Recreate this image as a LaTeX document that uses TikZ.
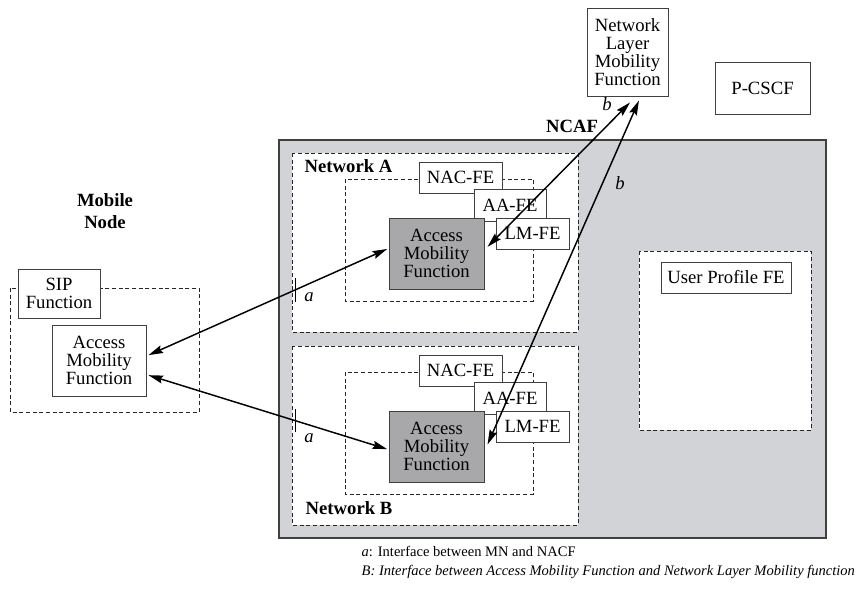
\documentclass[tikz,border=0pt]{standalone}
\usepackage{fontspec}
\setmainfont{Liberation Serif}
\usetikzlibrary{arrows.meta,calc}
\definecolor{ncafgray}{RGB}{210,211,214}
\definecolor{amfgray}{RGB}{168,168,170}
\newcommand\fe{\fontsize{14}{13.6}\selectfont}
\newcommand\fn{\fontsize{10.9}{13}\selectfont}

\begin{document}
\begin{tikzpicture}[x=0.75pt,y=-0.75pt,
  fbox/.style={draw=black!75,fill=white,line width=0.7pt,inner sep=1pt,align=center,font=\fe},
  amf/.style={fbox,fill=amfgray},
  sz/.style 2 args={minimum width=#1*0.75pt,minimum height=#2*0.75pt},
  grp/.style={draw=black!85,dash pattern=on 3pt off 2pt,line width=0.7pt},
  lnk/.style={{Stealth[length=11pt,width=6pt,inset=1.5pt]}-{Stealth[length=11pt,width=6pt,inset=1.5pt]},line width=1.1pt},
  ttl/.style={font=\fe\bfseries,align=center},
  ifc/.style={font=\fe\itshape}]
\useasboundingbox (0,0) rectangle (866,589);

% core network side
\node[fbox,sz={81}{88}] (nlmf) at (627.5,52) {Network\\Layer\\Mobility\\Function};
\node[fbox,sz={95}{52}] (pcscf) at (762.5,88.5) {P-CSCF};
\draw[draw=black!75,fill=ncafgray,line width=0.8pt] (279,140) rectangle (826,538);
\node[ttl] (ncaf) at (572,126) {NCAF};

% the two access networks, same layout shifted down
\foreach \n/\dy in {A/0,B/193} {
  \draw[grp,fill=white] (292,153+\dy) rectangle (578,332+\dy);
  \draw[grp] (345,179+\dy) rectangle (533,301+\dy);
  \node[fbox,sz={83}{31}] (nac\n) at (460.5,177.5+\dy) {NAC-FE};
  \node[fbox,sz={72}{32}] (aa\n) at (510,205.5+\dy) {AA-FE};
  \node[amf,sz={95}{71}] (amf\n) at (436.5,253.5+\dy) {Access\\Mobility\\Function};
  \node[fbox,sz={73}{31}] (lm\n) at (532.5,233.5+\dy) {LM-FE};
}
\node[ttl,anchor=base west] (neta) at (300,172) {Network A};
\node[ttl,anchor=base west] (netb) at (301,514) {Network B};

\draw[grp,fill=white] (639,251) rectangle (811,430);
\node[fbox,sz={130}{31}] (upfe) at (726,277.5) {User Profile FE};

% mobile node
\node[ttl,font=\fontsize{14}{16}\selectfont\bfseries] (mn) at (105,211) {Mobile\\Node};
\draw[grp] (10,288) rectangle (199,412);
\node[fbox,sz={82}{49}] (sip) at (59,293.5) {SIP\\Function};
\node[fbox,sz={94}{71}] (mnamf) at (99,360.5) {Access\\Mobility\\Function};

% interfaces
\draw[lnk] ([xshift=1.5pt,yshift=4pt]mnamf.east) -- ([xshift=-1pt,yshift=3.4pt]amfA.west);
\draw[lnk] ([xshift=1.5pt,yshift=-11pt]mnamf.east) -- ([xshift=-1pt,yshift=-2pt]amfB.west);
\draw[lnk] ([xshift=1.9pt,yshift=-4.5pt]nlmf.south) -- ([xshift=2.3pt,yshift=5pt]amfA.east);
\draw[lnk] ([xshift=8.6pt,yshift=-3pt]nlmf.south) -- ([xshift=2.3pt,yshift=1.5pt]amfB.east);
\draw[line width=0.7pt] (295,278) -- (295,302);
\draw[line width=0.7pt] (295,409) -- (295,432);
\node[ifc] (ia) at (309,297) {a};
\node[ifc] (ib) at (309,438) {a};
\node[ifc] (ja) at (607,104) {b};
\node[ifc] (jb) at (620,183) {b};

% legend
\node[font=\fn,anchor=base west] (lega) at (357,556) {\textit{a}: Interface between MN and NACF};
\node[font=\fn\itshape,anchor=base west] (legb) at (357,575) {B: Interface between Access Mobility Function and Network Layer Mobility function};
\end{tikzpicture}
\end{document}
